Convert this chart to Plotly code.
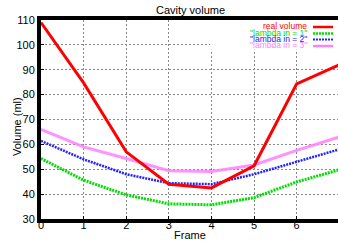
import plotly.graph_objects as go

frames = [0, 1, 2, 3, 4, 5, 6, 7]
real_volume = [109, 84.7, 57, 44, 42.5, 51.4, 84.3, 92]
lambda1 = [54.3, 45.6, 39.7, 36.1, 35.7, 38.6, 44.9, 49.8]
lambda2 = [61.4, 54, 48, 44.4, 44, 48, 53, 58]
lambda3 = [66, 59, 54.3, 49.4, 49.1, 51.7, 57.6, 63]

legend_names = ["real volume", '"lambda in = 1"', '"lambda in = 2"', '"lambda in = 3"']
colors = ["#ff0000", "#00e000", "#2222ff", "#ff80ff"]
dashes = ["solid", "2px,1px", "2px,1px", "solid"]
widths = [3, 3, 2.5, 3]
series = [real_volume, lambda1, lambda2, lambda3]

fig = go.Figure()
order = [3, 2, 1, 0]
for i in order:
    fig.add_trace(go.Scatter(x=frames, y=series[i], mode="lines", name=legend_names[i],
                             line=dict(color=colors[i], width=widths[i], dash=dashes[i]),
                             opacity=0.85 if i == 3 else 1, showlegend=False))

font = "Liberation Sans, Arial, sans-serif"
L, T, PW, PH = 41, 20, 297, 199


def px(x):
    return (x - L) / PW


def py(y):
    return 1 - (y - T) / PH


fig.update_layout(
    width=338, height=242,
    margin=dict(l=41, r=0, t=20, b=23, autoexpand=False),
    plot_bgcolor="white", paper_bgcolor="white",
    font=dict(family=font, size=11, color="black"),
    xaxis=dict(range=[0, 6.97], tickvals=[0, 1, 2, 3, 4, 5, 6], showgrid=True,
               gridcolor="#888888", griddash="2px,2px", gridwidth=1,
               showline=True, linecolor="black", linewidth=4, mirror=True,
               ticks="inside", ticklen=3, tickcolor="black", automargin=False,
               ticklabelstandoff=-7,
               tickfont=dict(size=11), zeroline=False),
    yaxis=dict(range=[30, 110], tickvals=[30, 40, 50, 60, 70, 80, 90, 100, 110], showgrid=True,
               gridcolor="#888888", griddash="2px,2px", gridwidth=1,
               showline=True, linecolor="black", linewidth=4, mirror=True,
               ticks="inside", ticklen=3, tickcolor="black", automargin=False,
               tickfont=dict(size=11), zeroline=False),
)

# titles
fig.add_annotation(xref="paper", yref="paper", x=px(190.5), y=py(10), text="Cavity volume",
                   showarrow=False, xanchor="center", yanchor="middle",
                   font=dict(family=font, size=11, color="black"))
fig.add_annotation(xref="paper", yref="paper", x=px(190), y=py(235), text="Frame",
                   showarrow=False, xanchor="center", yanchor="middle",
                   font=dict(family=font, size=11, color="black"))
fig.add_annotation(xref="paper", yref="paper", x=px(17), y=py(126), text="Volume (ml)",
                   showarrow=False, xanchor="center", yanchor="middle", textangle=-90,
                   font=dict(family=font, size=11, color="black"))

fig.add_shape(type="rect", xref="x", yref="y", x0=3.97, x1=6.97, y0=98, y1=110,
              fillcolor="white", line=dict(width=0), layer="between")

row_y = [26, 32.5, 38.5, 45]
for k in range(4):
    fig.add_annotation(xref="paper", yref="paper", x=px(309), y=py(row_y[k]),
                       text=legend_names[k], showarrow=False, xanchor="right", yanchor="middle",
                       font=dict(family=font, size=8.5, color=colors[k]))
    fig.add_shape(type="line", xref="paper", yref="paper",
                  x0=px(313), x1=px(333), y0=py(row_y[k] + 1), y1=py(row_y[k] + 1),
                  line=dict(color=colors[k], width=widths[k] - 0.5, dash=dashes[k]))

fig.write_html("out.html", config={"displayModeBar": False},
               post_script="document.body.style.margin='0';document.body.style.overflow='hidden';")
